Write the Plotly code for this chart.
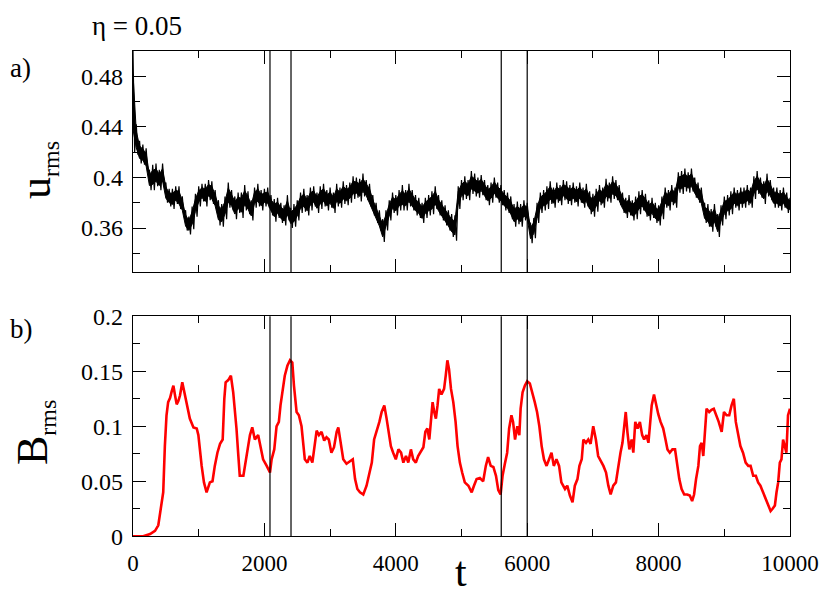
import plotly.graph_objects as go

# ---- data ----
# u_rms: band centre and half-width, every 50 time units from 0 to 10000
t_u = list(range(0, 10001, 50))
u_mid = [
    0.46, 0.43, 0.42, 0.418, 0.414, 0.398, 0.40, 0.402, 0.398, 0.402,
    0.388, 0.384, 0.383, 0.386, 0.384, 0.378, 0.366, 0.362, 0.368, 0.378,
    0.385, 0.388, 0.386, 0.39, 0.388, 0.382, 0.372, 0.37, 0.376, 0.386,
    0.382, 0.376, 0.38, 0.378, 0.384, 0.38, 0.374, 0.384, 0.386, 0.382,
    0.384, 0.384, 0.378, 0.374, 0.376, 0.372, 0.37, 0.376, 0.368, 0.37,
    0.374, 0.38, 0.382, 0.378, 0.383, 0.385, 0.38, 0.384, 0.386, 0.382,
    0.384, 0.38, 0.386, 0.384, 0.388, 0.386, 0.388, 0.392, 0.392, 0.39,
    0.394, 0.39, 0.386, 0.378, 0.372, 0.366, 0.358, 0.366, 0.374, 0.38,
    0.378, 0.382, 0.384, 0.382, 0.386, 0.382, 0.378, 0.376, 0.372, 0.376,
    0.378, 0.38, 0.384, 0.378, 0.374, 0.37, 0.366, 0.362, 0.36, 0.384,
    0.39, 0.392, 0.39, 0.396, 0.394, 0.392, 0.394, 0.39, 0.386, 0.388,
    0.392, 0.388, 0.386, 0.382, 0.38, 0.376, 0.37, 0.372, 0.37, 0.374,
    0.372, 0.356, 0.36, 0.372, 0.38, 0.382, 0.384, 0.388, 0.384, 0.388,
    0.386, 0.39, 0.388, 0.386, 0.388, 0.385, 0.388, 0.384, 0.386, 0.38,
    0.378, 0.382, 0.386, 0.384, 0.39, 0.388, 0.392, 0.39, 0.386, 0.38,
    0.376, 0.378, 0.374, 0.376, 0.38, 0.382, 0.378, 0.374, 0.376, 0.372,
    0.37, 0.376, 0.384, 0.382, 0.386, 0.384, 0.396, 0.396, 0.398, 0.396,
    0.398, 0.392, 0.388, 0.384, 0.372, 0.37, 0.366, 0.37, 0.362, 0.37,
    0.376, 0.378, 0.38, 0.384, 0.382, 0.384, 0.384, 0.386, 0.384, 0.392,
    0.396, 0.392, 0.388, 0.394, 0.39, 0.384, 0.384, 0.382, 0.384, 0.38,
    0.378,
]
u_half = [
    0.04, 0.012, 0.009, 0.008, 0.009, 0.008, 0.010, 0.009, 0.008, 0.009,
    0.008, 0.007, 0.008, 0.007, 0.009, 0.007, 0.008, 0.007, 0.009, 0.009,
    0.008, 0.007, 0.009, 0.008, 0.009, 0.008, 0.010, 0.009, 0.009, 0.010,
    0.008, 0.009, 0.008, 0.010, 0.010, 0.009, 0.008, 0.008, 0.009, 0.008,
    0.007, 0.008, 0.008, 0.009, 0.008, 0.008, 0.008, 0.010, 0.008, 0.009,
    0.008, 0.008, 0.009, 0.008, 0.009, 0.008, 0.008, 0.009, 0.009, 0.008,
    0.008, 0.008, 0.009, 0.008, 0.009, 0.008, 0.008, 0.009, 0.008, 0.009,
    0.009, 0.008, 0.009, 0.008, 0.008, 0.008, 0.009, 0.008, 0.008, 0.008,
    0.008, 0.008, 0.010, 0.008, 0.009, 0.008, 0.008, 0.008, 0.008, 0.008,
    0.008, 0.009, 0.009, 0.008, 0.008, 0.008, 0.008, 0.009, 0.010, 0.009,
    0.008, 0.009, 0.008, 0.009, 0.009, 0.008, 0.008, 0.008, 0.008, 0.008,
    0.008, 0.008, 0.008, 0.008, 0.008, 0.009, 0.009, 0.009, 0.009, 0.008,
    0.008, 0.008, 0.008, 0.008, 0.008, 0.008, 0.009, 0.009, 0.008, 0.008,
    0.008, 0.008, 0.009, 0.008, 0.008, 0.008, 0.008, 0.008, 0.009, 0.009,
    0.009, 0.009, 0.008, 0.008, 0.009, 0.008, 0.009, 0.008, 0.008, 0.008,
    0.008, 0.008, 0.008, 0.009, 0.009, 0.008, 0.009, 0.008, 0.008, 0.008,
    0.008, 0.009, 0.008, 0.008, 0.008, 0.008, 0.008, 0.009, 0.009, 0.008,
    0.009, 0.008, 0.008, 0.008, 0.008, 0.009, 0.009, 0.009, 0.009, 0.008,
    0.009, 0.008, 0.009, 0.008, 0.008, 0.008, 0.008, 0.008, 0.008, 0.009,
    0.009, 0.008, 0.009, 0.009, 0.008, 0.008, 0.008, 0.008, 0.008, 0.008,
    0.006,
]

# B_rms
t_b = [
    0, 155, 260, 335, 385, 410, 435, 460, 485, 510, 535, 565, 590, 615, 640, 665, 690, 715, 750, 790,
    825, 865, 920, 970, 995, 1020, 1045, 1080, 1120, 1170, 1210, 1245, 1285, 1325, 1365, 1390, 1410, 1450, 1490, 1525,
    1550, 1575, 1600, 1625, 1680, 1715, 1740, 1780, 1815, 1855, 1905, 1945, 1980, 2035, 2085, 2110, 2150, 2185, 2220, 2245,
    2275, 2310, 2350, 2390, 2425, 2450, 2490, 2525, 2565, 2590, 2615, 2655, 2690, 2730, 2760, 2795, 2830, 2870, 2910, 2945,
    2980, 3020, 3060, 3100, 3125, 3160, 3200, 3250, 3300, 3345, 3380, 3415, 3455, 3505, 3555, 3600, 3635, 3670, 3710, 3750,
    3785, 3825, 3860, 3895, 3925, 3960, 4000, 4040, 4080, 4115, 4155, 4190, 4230, 4265, 4305, 4340, 4385, 4420, 4450, 4480,
    4510, 4535, 4560, 4585, 4610, 4635, 4660, 4695, 4735, 4760, 4785, 4810, 4840, 4875, 4910, 4940, 4975, 5010, 5050, 5105,
    5155, 5190, 5230, 5280, 5330, 5370, 5405, 5445, 5485, 5525, 5560, 5595, 5625, 5660, 5695, 5725, 5760, 5785, 5815, 5850,
    5880, 5900, 5930, 5965, 6000, 6040, 6080, 6115, 6150, 6185, 6220, 6255, 6295, 6335, 6370, 6405, 6445, 6485, 6520, 6575,
    6610, 6650, 6690, 6725, 6765, 6795, 6830, 6855, 6895, 6930, 6965, 7005, 7045, 7080, 7120, 7160, 7200, 7235, 7270, 7310,
    7350, 7385, 7420, 7450, 7480, 7500, 7525, 7555, 7590, 7615, 7645, 7680, 7715, 7750, 7780, 7815, 7845, 7870, 7895, 7930,
    7960, 7995, 8030, 8070, 8105, 8135, 8170, 8210, 8250, 8285, 8315, 8350, 8390, 8435, 8475, 8510, 8540, 8570, 8605, 8630,
    8655, 8680, 8705, 8730, 8770, 8805, 8840, 8880, 8915, 8960, 8995, 9035, 9075, 9110, 9145, 9175, 9210, 9245, 9285, 9325,
    9365, 9400, 9440, 9480, 9515, 9550, 9590, 9625, 9665, 9705, 9735, 9770, 9795, 9820, 9845, 9870, 9895, 9920, 9945, 9970,
    10000,
]
b_rms = [
    0.0, 0.0, 0.002, 0.005, 0.01, 0.019, 0.031, 0.04, 0.082, 0.11, 0.122, 0.126, 0.132, 0.137, 0.128, 0.12, 0.123, 0.128, 0.14, 0.128,
    0.116, 0.107, 0.099, 0.098, 0.092, 0.076, 0.064, 0.049, 0.04, 0.049, 0.05, 0.064, 0.076, 0.084, 0.088, 0.125, 0.14, 0.142, 0.146, 0.131,
    0.116, 0.098, 0.076, 0.055, 0.055, 0.067, 0.079, 0.092, 0.099, 0.088, 0.092, 0.079, 0.07, 0.064, 0.058, 0.07, 0.079, 0.1, 0.104, 0.119,
    0.134, 0.146, 0.155, 0.16, 0.158, 0.137, 0.113, 0.11, 0.1, 0.082, 0.07, 0.067, 0.073, 0.067, 0.082, 0.096, 0.092, 0.095, 0.087, 0.09,
    0.088, 0.076, 0.081, 0.095, 0.099, 0.086, 0.07, 0.066, 0.068, 0.07, 0.052, 0.043, 0.04, 0.038, 0.046, 0.058, 0.067, 0.088, 0.095, 0.104,
    0.113, 0.119, 0.107, 0.095, 0.082, 0.076, 0.07, 0.079, 0.076, 0.067, 0.073, 0.067, 0.079, 0.07, 0.067, 0.073, 0.078, 0.081, 0.095, 0.098,
    0.088, 0.11, 0.122, 0.113, 0.107, 0.119, 0.134, 0.129, 0.134, 0.146, 0.16, 0.152, 0.134, 0.122, 0.104, 0.082, 0.067, 0.058, 0.049, 0.046,
    0.04, 0.046, 0.052, 0.053, 0.05, 0.064, 0.072, 0.064, 0.063, 0.055, 0.042, 0.038, 0.055, 0.066, 0.076, 0.098, 0.11, 0.104, 0.088, 0.1,
    0.092, 0.116, 0.131, 0.137, 0.141, 0.139, 0.131, 0.122, 0.113, 0.1, 0.082, 0.07, 0.064, 0.07, 0.076, 0.064, 0.07, 0.064, 0.049, 0.043,
    0.046, 0.037, 0.031, 0.046, 0.052, 0.064, 0.07, 0.088, 0.085, 0.088, 0.084, 0.1, 0.088, 0.073, 0.069, 0.064, 0.058, 0.046, 0.038, 0.046,
    0.049, 0.064, 0.076, 0.085, 0.104, 0.113, 0.095, 0.079, 0.088, 0.076, 0.104, 0.098, 0.104, 0.092, 0.088, 0.092, 0.085, 0.104, 0.119, 0.129,
    0.119, 0.111, 0.104, 0.098, 0.088, 0.079, 0.076, 0.079, 0.079, 0.064, 0.052, 0.043, 0.038, 0.038, 0.037, 0.032, 0.038, 0.052, 0.064, 0.082,
    0.085, 0.073, 0.095, 0.116, 0.113, 0.115, 0.116, 0.11, 0.104, 0.095, 0.113, 0.11, 0.11, 0.119, 0.125, 0.104, 0.092, 0.082, 0.076, 0.067,
    0.064, 0.064, 0.055, 0.055, 0.049, 0.046, 0.04, 0.035, 0.029, 0.023, 0.025, 0.028, 0.04, 0.049, 0.067, 0.07, 0.088, 0.082, 0.076, 0.11,
    0.116,
]

# times of the vertical marker lines
marker_t = [2085, 2405, 5605, 6000]

# noisy u_rms: a solid core band plus a zig-zag fringe out to the full width
core_hi = [m + 0.55 * h for m, h in zip(u_mid, u_half)]
core_lo = [m - 0.55 * h for m, h in zip(u_mid, u_half)]
band_x = t_u + t_u[::-1]
band_y = core_hi + core_lo[::-1]
zx, zy = [], []
for t, m, h in zip(t_u, u_mid, u_half):
    zx += [t, t + 25]
    zy += [m + h, m - h]

FONT = "Liberation Serif"
# page body has an 8px margin, so the figure is made smaller and shifted
OFF = 8
W, H = 827 - 2 * OFF, 605 - 2 * OFF


def px(x):
    return (x - OFF) / W


def py(y):
    return 1 - (y - OFF) / H


fig = go.Figure()
fig.add_trace(go.Scatter(x=band_x, y=band_y, mode="lines", fill="toself", fillcolor="black",
                         line=dict(color="black", width=1), xaxis="x", yaxis="y", hoverinfo="skip"))
fig.add_trace(go.Scatter(x=zx, y=zy, mode="lines", line=dict(color="black", width=1.2),
                         xaxis="x", yaxis="y", hoverinfo="skip"))
fig.add_trace(go.Scatter(x=t_b, y=b_rms, mode="lines", line=dict(color="#ff0000", width=2.6),
                         xaxis="x2", yaxis="y2"))

for t in marker_t:
    for xr, yr in (("x", "y domain"), ("x2", "y2 domain")):
        fig.add_shape(type="line", xref=xr, yref=yr, x0=t, x1=t, y0=0, y1=1,
                      line=dict(color="black", width=1.2))

common_ax = dict(showline=True, linecolor="black", linewidth=1.3, mirror="ticks",
                 ticks="inside", ticklen=13, tickwidth=1.2, tickcolor="black",
                 showgrid=False, zeroline=False, automargin=False,
                 ticklabeloverflow="allow",
                 tickfont=dict(family=FONT, size=24, color="black"))


def minor(d):
    return dict(dtick=d, ticks="inside", ticklen=7, tickwidth=1.2,
                tickcolor="black", showgrid=False)


xdom = [px(133), px(790)]
fig.update_layout(
    width=W, height=H, margin=dict(l=0, r=0, t=0, b=0),
    paper_bgcolor="white", plot_bgcolor="white", showlegend=False,
    xaxis=dict(common_ax, domain=xdom, range=[0, 10000], dtick=2000, tick0=0,
               showticklabels=False, anchor="y", minor=minor(1000)),
    yaxis=dict(common_ax, domain=[py(272.3), py(51)], range=[0.325, 0.5],
               tick0=0.36, dtick=0.04, anchor="x", minor=minor(0.02), ticklabelstandoff=4),
    xaxis2=dict(common_ax, domain=xdom, range=[0, 10000], dtick=2000, tick0=0,
                tickformat="d", anchor="y2", minor=minor(1000), ticklabelstandoff=6,
                tickfont=dict(family=FONT, size=23, color="black")),
    yaxis2=dict(common_ax, domain=[py(536.3), py(316.3)], range=[0, 0.2],
                tick0=0, dtick=0.05, anchor="x2", minor=minor(0.025), ticklabelstandoff=4),
)


def note(text, x, y, size, xanchor="center", yanchor="middle", angle=0):
    fig.add_annotation(text=text, xref="paper", yref="paper", x=px(x), y=py(y),
                       xanchor=xanchor, yanchor=yanchor, showarrow=False, textangle=angle,
                       font=dict(family=FONT, size=size, color="black"))


note("η = 0.05", 137, 26, 27)
note("a)", 8, 68, 27, xanchor="left")
note("b)", 8, 329, 27, xanchor="left")
note("u<sub><span style='font-size:24px'>rms</span></sub>", 38, 170, 44, angle=-90)
note("B<sub><span style='font-size:24px'>rms</span></sub>", 34, 433, 44, angle=-90)
note("t", 461, 597, 42, yanchor="bottom")

fig.write_html("out.html")
